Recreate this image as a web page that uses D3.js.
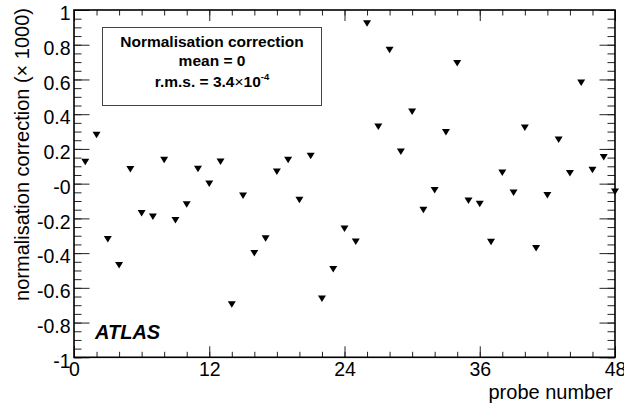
<!DOCTYPE html>
<html>
<head>
<meta charset="utf-8">
<script src="https://cdn.jsdelivr.net/npm/d3@7"></script>
<style>
  body { margin: 0; background: #fff; }
  svg { font-family: "Liberation Sans", Arial, Helvetica, sans-serif; }
</style>
</head>
<body>
<script>
// probe number 1..48 and its normalisation correction (x 1000)
var probes = d3.range(1, 49);
var corrections = [
  0.125, 0.28, -0.32, -0.47, 0.083, -0.17, -0.19, 0.136, -0.21, -0.12,
  0.084, 0.0, 0.126, -0.695, -0.07, -0.40, -0.315, 0.069, 0.136, -0.094,
  0.159, -0.662, -0.493, -0.259, -0.334, 0.923, 0.328, 0.77, 0.184, 0.414,
  -0.152, -0.037, 0.296, 0.693, -0.098, -0.117, -0.336, 0.063, -0.052, 0.322,
  -0.372, -0.067, 0.253, 0.06, 0.581, 0.079, 0.153, -0.046
];

var xTickValues = [0, 12, 24, 36, 48];
var xTickLabels = ["0", "12", "24", "36", "48"];
var yTickValues = [-1, -0.8, -0.6, -0.4, -0.2, 0, 0.2, 0.4, 0.6, 0.8, 1];
var yTickLabels = ["-1", "-0.8", "-0.6", "-0.4", "-0.2", "-0", "0.2", "0.4", "0.6", "0.8", "1"];
var legendLines = ["Normalisation correction", "mean = 0"];

var width = 624, height = 405;
// frame edges (note: "top" is a reserved window property, so use other names)
var frameLeft = 74, frameRight = 615, frameTop = 10, frameBottom = 357.3;

var svg = d3.select("body").append("svg")
  .attr("width", width)
  .attr("height", height);

var x = d3.scaleLinear().domain([0, 48]).range([frameLeft, frameRight]);
var y = d3.scaleLinear().domain([-1, 1]).range([frameBottom, frameTop]);

var xMinor = d3.range(0, 49, 2);
var yMinor = d3.range(-1, 1.0001, 0.05);

function styleAxis(g) {
  g.select(".domain").remove();
  g.selectAll(".tick line").attr("stroke", "#222").attr("stroke-width", 1);
  g.selectAll("text").attr("fill", "#000").attr("font-size", 19.5);
}

// left axis, ticks inside
svg.append("g").attr("transform", "translate(" + frameLeft + ",0)")
  .call(d3.axisLeft(y).tickValues(yMinor).tickSize(-7.5).tickFormat(""))
  .call(styleAxis);
svg.append("g").attr("transform", "translate(" + frameLeft + ",0)")
  .call(d3.axisLeft(y).tickValues(yTickValues).tickSize(-15.5).tickPadding(3.5)
    .tickFormat(function(d, i) { return yTickLabels[i]; }))
  .call(styleAxis)
  .selectAll("text").attr("dy", "0.5em");

// right axis
svg.append("g").attr("transform", "translate(" + frameRight + ",0)")
  .call(d3.axisRight(y).tickValues(yMinor).tickSize(-7.5).tickFormat(""))
  .call(styleAxis);
svg.append("g").attr("transform", "translate(" + frameRight + ",0)")
  .call(d3.axisRight(y).tickValues(yTickValues).tickSize(-15.5).tickFormat(""))
  .call(styleAxis);

// bottom axis
svg.append("g").attr("transform", "translate(0," + frameBottom + ")")
  .call(d3.axisBottom(x).tickValues(xMinor).tickSize(-5.5).tickFormat(""))
  .call(styleAxis);
svg.append("g").attr("transform", "translate(0," + frameBottom + ")")
  .call(d3.axisBottom(x).tickValues(xTickValues).tickSize(-11).tickPadding(5)
    .tickFormat(function(d, i) { return xTickLabels[i]; }))
  .call(styleAxis);

// top axis
svg.append("g").attr("transform", "translate(0," + frameTop + ")")
  .call(d3.axisTop(x).tickValues(xMinor).tickSize(-5.5).tickFormat(""))
  .call(styleAxis);
svg.append("g").attr("transform", "translate(0," + frameTop + ")")
  .call(d3.axisTop(x).tickValues(xTickValues).tickSize(-11).tickFormat(""))
  .call(styleAxis);

// frame
svg.append("rect")
  .attr("x", frameLeft).attr("y", frameTop)
  .attr("width", frameRight - frameLeft).attr("height", frameBottom - frameTop)
  .attr("fill", "none").attr("stroke", "#000").attr("stroke-width", 1.6);

// axis titles
svg.append("text")
  .attr("transform", "translate(29,8) rotate(-90)")
  .attr("text-anchor", "end")
  .attr("font-size", 20)
  .text("normalisation correction (\u00d7 1000)");

svg.append("text")
  .attr("x", 613).attr("y", 399)
  .attr("text-anchor", "end")
  .attr("font-size", 20)
  .text("probe number");

// legend box
svg.append("rect")
  .attr("x", 102.5).attr("y", 27.5).attr("width", 219).attr("height", 78)
  .attr("fill", "#fff").attr("stroke", "#444").attr("stroke-width", 1);

svg.selectAll(".leg").data(legendLines).enter().append("text")
  .attr("class", "leg")
  .attr("x", 212).attr("y", function(d, i) { return 46.7 + i * 19.5; })
  .attr("text-anchor", "middle")
  .attr("font-size", 15.5).attr("font-weight", "bold")
  .text(function(d) { return d; });

var rms = svg.append("text")
  .attr("x", 212).attr("y", 86.5)
  .attr("text-anchor", "middle")
  .attr("font-size", 15.5).attr("font-weight", "bold");
rms.append("tspan").text("r.m.s. = 3.4");
rms.append("tspan").attr("font-weight", "normal").text("\u00d7");
rms.append("tspan").text("10");
rms.append("tspan").attr("font-size", 9.5).attr("dy", -6.5).text("-4");

// ATLAS label
svg.append("text")
  .attr("x", 95).attr("y", 338.5)
  .attr("font-size", 20).attr("font-weight", "bold").attr("font-style", "italic")
  .text("ATLAS");

// markers: full triangle down
svg.selectAll(".pt").data(probes).enter().append("path")
  .attr("class", "pt")
  .attr("d", "M-4,-3.2L4,-3.2L0,3.3Z")
  .attr("fill", "#000")
  .attr("transform", function(d, i) {
    return "translate(" + x(d) + "," + y(corrections[i]) + ")";
  });
</script>
</body>
</html>
